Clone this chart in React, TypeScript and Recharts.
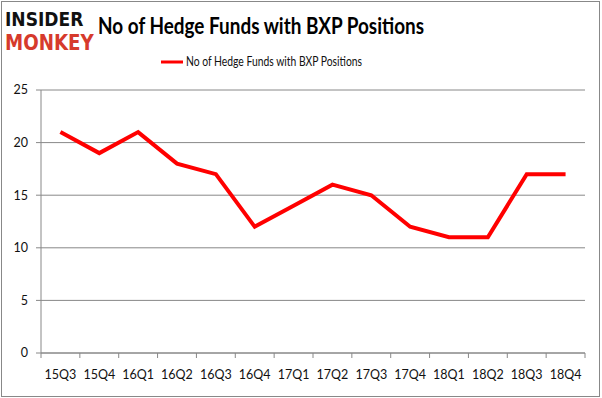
import { LineChart, Line, XAxis, YAxis, CartesianGrid } from 'recharts';

const quarters = ['15Q3', '15Q4', '16Q1', '16Q2', '16Q3', '16Q4', '17Q1', '17Q2', '17Q3', '17Q4', '18Q1', '18Q2', '18Q3', '18Q4'];
const hedgeFunds = [21, 19, 21, 18, 17, 12, 14, 16, 15, 12, 11, 11, 17, 17];
const yTicks = [0, 5, 10, 15, 20, 25];
const seriesName = 'No of Hedge Funds with BXP Positions';

const data = quarters.map((q, i) => ({ quarter: q, funds: hedgeFunds[i] }));

const W = 602;
const H = 398;
const plotLeft = 41;
const plotRight = 585;
const halfBand = (plotRight - plotLeft) / quarters.length / 2;
const font = "Lato, 'Open Sans', sans-serif";

// Excel style: tick marks sit between categories, labels in the middle
const QuarterTick = (props: any) => {
  const { x, y, payload, index } = props;
  return (
    <g>
      <line x1={x - halfBand} y1={y} x2={x - halfBand} y2={y + 5} stroke="#888" />
      {index === quarters.length - 1 && (
        <line x1={x + halfBand} y1={y} x2={x + halfBand} y2={y + 5} stroke="#888" />
      )}
      <text x={x} y={y + 26} textAnchor="middle" fontSize={12.5} fill="#111" fontFamily={font}>
        {payload.value}
      </text>
    </g>
  );
};

export default function App() {
  return (
    <div style={{ position: 'absolute', left: 0, top: 0, width: W, height: H, background: '#fff' }}>
      <div
        style={{
          position: 'absolute', left: 1, top: 1, width: 597, height: 394,
          border: '1px solid #888', boxSizing: 'content-box',
        }}
      />
      <svg width={W} height={70} style={{ position: 'absolute', left: 0, top: 0 }}>
        {/* logo, squeezed horizontally */}
        <g transform="translate(5,26) scale(0.9,1)">
          <text x={0} y={0} fontSize={19} fontWeight={900} fill="#111" fontFamily="'DejaVu Sans', sans-serif">INSIDER</text>
        </g>
        <g transform="translate(5,50) scale(0.83,1)">
          <text x={0} y={0} fontSize={22} fontWeight={900} fill="#d63a2c" fontFamily="'DejaVu Sans', sans-serif">MONKEY</text>
        </g>
        <text x={98} y={34} fontSize={23} fontWeight={700} fill="#000" fontFamily={font}
          textLength={326} lengthAdjust="spacingAndGlyphs">{seriesName}</text>
        <line x1={161} y1={62} x2={183} y2={62} stroke="#ff0000" strokeWidth={3} />
        <text x={186} y={66} fontSize={12.5} fill="#111" fontFamily={font}
          textLength={176} lengthAdjust="spacingAndGlyphs">{seriesName}</text>
      </svg>
      <LineChart
        width={W}
        height={H}
        data={data}
        margin={{ top: 90, right: W - plotRight, bottom: 15, left: 0 }}
        style={{ position: 'absolute', left: 0, top: 0 }}
      >
        <CartesianGrid vertical={false} stroke="#888" />
        <XAxis
          dataKey="quarter"
          scale="band"
          stroke="#888"
          tickLine={false}
          tickSize={0}
          tickMargin={0}
          tick={<QuarterTick />}
          height={30}
          interval={0}
        />
        <YAxis
          domain={[0, 25]}
          ticks={yTicks}
          width={plotLeft}
          stroke="#888"
          tickSize={5}
          tickMargin={8}
          tick={{ fontSize: 12.5, fill: '#111', fontFamily: font }}
        />
        <Line
          type="linear"
          dataKey="funds"
          name={seriesName}
          stroke="#ff0000"
          strokeWidth={4}
          dot={false}
          isAnimationActive={false}
        />
      </LineChart>
    </div>
  );
}
